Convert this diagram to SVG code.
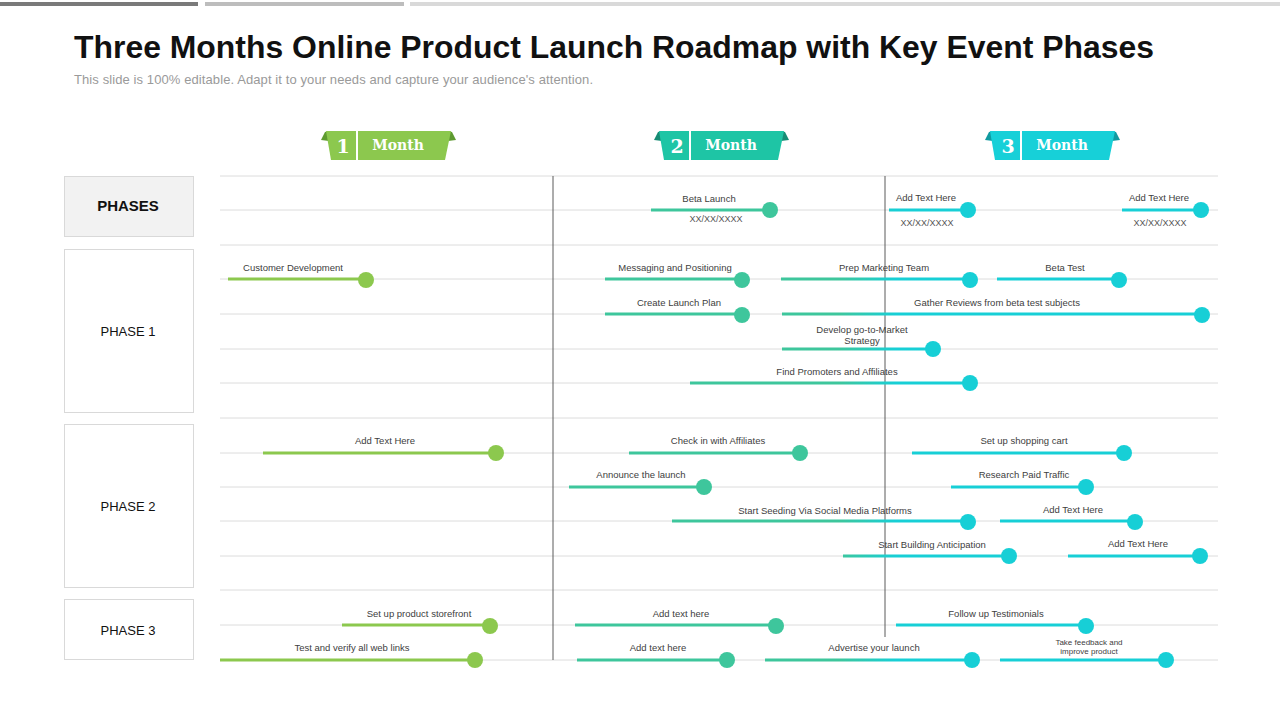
<svg xmlns="http://www.w3.org/2000/svg" width="1280" height="720" viewBox="0 0 1280 720">
<defs>
<linearGradient id="tl" gradientUnits="userSpaceOnUse" x1="0" y1="0" x2="1280" y2="0">
<stop offset="0" stop-color="#8cc84e"/>
<stop offset="0.43" stop-color="#8cc84e"/>
<stop offset="0.433" stop-color="#3ec69c"/>
<stop offset="0.655" stop-color="#3ec69c"/>
<stop offset="0.70" stop-color="#17cfd6"/>
<stop offset="1" stop-color="#17cfd6"/>
</linearGradient>
<linearGradient id="shL" x1="1" y1="0" x2="0" y2="0"><stop offset="0" stop-color="#555"/><stop offset="1" stop-color="#555" stop-opacity="0"/></linearGradient>
<linearGradient id="shR" x1="0" y1="0" x2="1" y2="0"><stop offset="0" stop-color="#555"/><stop offset="1" stop-color="#555" stop-opacity="0"/></linearGradient>
</defs>
<style>
.grid{stroke:#dcdcdc;stroke-width:1}
.vl{stroke:#5a5a5a;stroke-width:1}
.bar{stroke:url(#tl);stroke-width:3;fill:none}
.dot{fill:url(#tl)}
.lb{font-family:"Liberation Sans",Arial,sans-serif;font-size:9.5px;fill:#404040;text-anchor:middle}
.sm{font-family:"Liberation Sans",Arial,sans-serif;font-size:8px;fill:#404040;text-anchor:middle}
.dt{font-family:"Liberation Sans",Arial,sans-serif;font-size:9px;fill:#555;text-anchor:middle}
.ph{font-family:"Liberation Sans",Arial,sans-serif;font-size:13px;fill:#111;text-anchor:middle}
.box{fill:#fff;stroke:#d9d9d9;stroke-width:1}
.mn{font-family:"DejaVu Serif","Liberation Serif",serif;font-weight:bold;fill:#fff;text-anchor:middle}
</style>
<rect width="1280" height="720" fill="#fff"/>
<g id="topbars">
<rect x="0" y="2" width="198" height="4" fill="#7a7a7a"/>
<rect x="205" y="2" width="199" height="4" fill="#bdbdbd"/>
<rect x="410" y="2" width="870" height="4" fill="#d9d9d9"/>
</g>
<g id="title">
<text x="74" y="58" font-family="'Liberation Sans', Arial, sans-serif" font-size="32" font-weight="bold" fill="#111" textLength="1080" lengthAdjust="spacingAndGlyphs">Three Months Online Product Launch Roadmap with Key Event Phases</text>
<text x="74" y="84" font-family="'Liberation Sans', Arial, sans-serif" font-size="13" fill="#9a9a9a" textLength="519" lengthAdjust="spacing">This slide is 100% editable. Adapt it to your needs and capture your audience's attention.</text>
</g>
<g id="grid">
<line class="grid" x1="220" y1="176" x2="1218" y2="176" stroke-width="2"/>
<line class="grid" x1="220" y1="210" x2="1218" y2="210"/>
<line class="grid" x1="220" y1="245" x2="1218" y2="245"/>
<line class="grid" x1="220" y1="279" x2="1218" y2="279"/>
<line class="grid" x1="220" y1="314" x2="1218" y2="314"/>
<line class="grid" x1="220" y1="349" x2="1218" y2="349"/>
<line class="grid" x1="220" y1="383" x2="1218" y2="383"/>
<line class="grid" x1="220" y1="418" x2="1218" y2="418"/>
<line class="grid" x1="220" y1="453" x2="1218" y2="453"/>
<line class="grid" x1="220" y1="487" x2="1218" y2="487"/>
<line class="grid" x1="220" y1="521" x2="1218" y2="521"/>
<line class="grid" x1="220" y1="556" x2="1218" y2="556"/>
<line class="grid" x1="220" y1="590" x2="1218" y2="590" stroke-width="2"/>
<line class="grid" x1="220" y1="625" x2="1218" y2="625"/>
<line class="grid" x1="220" y1="660" x2="1218" y2="660"/>
<line class="vl" x1="553" y1="176" x2="553" y2="660"/>
<line class="vl" x1="885" y1="176" x2="885" y2="637"/>
</g>
<g id="month1">
<line x1="312" y1="140" x2="324" y2="140" stroke="url(#shL)" stroke-width="1.2"/>
<line x1="455" y1="140" x2="468" y2="140" stroke="url(#shR)" stroke-width="1.2"/>
<polygon points="321,140 325,132 329,131 329,141" fill="#5e9a30"/>
<polygon points="448,131 452,132 456,140 448,141" fill="#5e9a30"/>
<polygon points="326,131 451,131 445,160 331,160" fill="#8cc84e"/>
<line x1="357" y1="131" x2="357" y2="160" stroke="#fff" stroke-width="2"/>
<text class="mn" x="343" y="153" font-size="19">1</text>
<text class="mn" x="398" y="150" font-size="14">Month</text>
</g>
<g id="month2" transform="translate(333,0)">
<line x1="312" y1="140" x2="324" y2="140" stroke="url(#shL)" stroke-width="1.2"/>
<line x1="455" y1="140" x2="468" y2="140" stroke="url(#shR)" stroke-width="1.2"/>
<polygon points="321,140 325,132 329,131 329,141" fill="#168c74"/>
<polygon points="448,131 452,132 456,140 448,141" fill="#168c74"/>
<polygon points="326,131 451,131 445,160 331,160" fill="#1ec5a5"/>
<line x1="357" y1="131" x2="357" y2="160" stroke="#fff" stroke-width="2"/>
<text class="mn" x="344" y="153" font-size="19">2</text>
<text class="mn" x="398" y="150" font-size="14">Month</text>
</g>
<g id="month3" transform="translate(664,0)">
<line x1="312" y1="140" x2="324" y2="140" stroke="url(#shL)" stroke-width="1.2"/>
<line x1="455" y1="140" x2="468" y2="140" stroke="url(#shR)" stroke-width="1.2"/>
<polygon points="321,140 325,132 329,131 329,141" fill="#109aa0"/>
<polygon points="448,131 452,132 456,140 448,141" fill="#109aa0"/>
<polygon points="326,131 451,131 445,160 331,160" fill="#17d0d8"/>
<line x1="357" y1="131" x2="357" y2="160" stroke="#fff" stroke-width="2"/>
<text class="mn" x="344" y="153" font-size="19">3</text>
<text class="mn" x="398" y="150" font-size="14">Month</text>
</g>
<g id="phases">
<rect x="64.5" y="176.5" width="129" height="60" fill="#f2f2f2" stroke="#d9d9d9"/>
<text x="128" y="211" font-family="'Liberation Sans', Arial, sans-serif" font-size="15" font-weight="bold" fill="#111" text-anchor="middle">PHASES</text>
</g>
<g id="phase1"><rect class="box" x="64.5" y="249.5" width="129" height="163"/><text class="ph" x="128" y="336">PHASE  1</text></g>
<g id="phase2"><rect class="box" x="64.5" y="424.5" width="129" height="163"/><text class="ph" x="128" y="511">PHASE  2</text></g>
<g id="phase3"><rect class="box" x="64.5" y="599.5" width="129" height="60"/><text class="ph" x="128" y="635">PHASE  3</text></g>
<g id="connectors">
<line class="bar" x1="651" y1="210" x2="770" y2="210"/>
<line class="bar" x1="889" y1="210" x2="968" y2="210"/>
<line class="bar" x1="1122" y1="210" x2="1201" y2="210"/>
<line class="bar" x1="228" y1="279" x2="366" y2="279"/>
<line class="bar" x1="605" y1="279" x2="742" y2="279"/>
<line class="bar" x1="781" y1="279" x2="970" y2="279"/>
<line class="bar" x1="997" y1="279" x2="1119" y2="279"/>
<line class="bar" x1="605" y1="314" x2="742" y2="314"/>
<line class="bar" x1="782" y1="314" x2="1202" y2="314"/>
<line class="bar" x1="782" y1="349" x2="933" y2="349"/>
<line class="bar" x1="690" y1="383" x2="970" y2="383"/>
<line class="bar" x1="263" y1="453" x2="496" y2="453"/>
<line class="bar" x1="629" y1="453" x2="800" y2="453"/>
<line class="bar" x1="912" y1="453" x2="1124" y2="453"/>
<line class="bar" x1="569" y1="487" x2="704" y2="487"/>
<line class="bar" x1="951" y1="487" x2="1086" y2="487"/>
<line class="bar" x1="672" y1="521" x2="968" y2="521"/>
<line class="bar" x1="1000" y1="521" x2="1135" y2="521"/>
<line class="bar" x1="843" y1="556" x2="1009" y2="556"/>
<line class="bar" x1="1068" y1="556" x2="1200" y2="556"/>
<line class="bar" x1="342" y1="625" x2="490" y2="625"/>
<line class="bar" x1="575" y1="625" x2="776" y2="625"/>
<line class="bar" x1="896" y1="625" x2="1086" y2="625"/>
<line class="bar" x1="220" y1="660" x2="475" y2="660"/>
<line class="bar" x1="577" y1="660" x2="727" y2="660"/>
<line class="bar" x1="765" y1="660" x2="972" y2="660"/>
<line class="bar" x1="1000" y1="660" x2="1166" y2="660"/>
</g>
<g id="ev-beta-launch"><circle class="dot" cx="770" cy="210" r="8"/><text class="lb" x="709" y="202">Beta Launch</text><text class="dt" x="716" y="222">XX/XX/XXXX</text></g>
<g id="ev-m3-a"><circle class="dot" cx="968" cy="210" r="8"/><text class="lb" x="926" y="201">Add Text Here</text><text class="dt" x="927" y="226">XX/XX/XXXX</text></g>
<g id="ev-m3-b"><circle class="dot" cx="1201" cy="210" r="8"/><text class="lb" x="1159" y="201">Add Text Here</text><text class="dt" x="1160" y="226">XX/XX/XXXX</text></g>
<g id="ev-customer-dev"><circle class="dot" cx="366" cy="280" r="8"/><text class="lb" x="293" y="271">Customer Development</text></g>
<g id="ev-messaging"><circle class="dot" cx="742" cy="280" r="8"/><text class="lb" x="675" y="271">Messaging and Positioning</text></g>
<g id="ev-prep-marketing"><circle class="dot" cx="970" cy="280" r="8"/><text class="lb" x="884" y="271">Prep Marketing Team</text></g>
<g id="ev-beta-test"><circle class="dot" cx="1119" cy="280" r="8"/><text class="lb" x="1065" y="271">Beta Test</text></g>
<g id="ev-launch-plan"><circle class="dot" cx="742" cy="315" r="8"/><text class="lb" x="679" y="306">Create Launch Plan</text></g>
<g id="ev-gather-reviews"><circle class="dot" cx="1202" cy="315" r="8"/><text class="lb" x="997" y="306">Gather Reviews from beta test subjects</text></g>
<g id="ev-go-to-market"><circle class="dot" cx="933" cy="349" r="8"/><text class="lb" x="862" y="333">Develop go-to-Market</text><text class="lb" x="862" y="344">Strategy</text></g>
<g id="ev-promoters"><circle class="dot" cx="970" cy="383" r="8"/><text class="lb" x="837" y="375">Find Promoters and Affiliates</text></g>
<g id="ev-p2-a"><circle class="dot" cx="496" cy="453" r="8"/><text class="lb" x="385" y="444">Add Text Here</text></g>
<g id="ev-check-affiliates"><circle class="dot" cx="800" cy="453" r="8"/><text class="lb" x="718" y="444">Check in with Affiliates</text></g>
<g id="ev-shopping-cart"><circle class="dot" cx="1124" cy="453" r="8"/><text class="lb" x="1024" y="444">Set up shopping cart</text></g>
<g id="ev-announce"><circle class="dot" cx="704" cy="487" r="8"/><text class="lb" x="641" y="478">Announce the launch</text></g>
<g id="ev-paid-traffic"><circle class="dot" cx="1086" cy="487" r="8"/><text class="lb" x="1024" y="478">Research Paid Traffic</text></g>
<g id="ev-seeding"><circle class="dot" cx="968" cy="522" r="8"/><text class="lb" x="825" y="514">Start Seeding Via Social Media Platforms</text></g>
<g id="ev-p2-b"><circle class="dot" cx="1135" cy="522" r="8"/><text class="lb" x="1073" y="513">Add Text Here</text></g>
<g id="ev-anticipation"><circle class="dot" cx="1009" cy="556" r="8"/><text class="lb" x="932" y="548">Start Building Anticipation</text></g>
<g id="ev-p2-c"><circle class="dot" cx="1200" cy="556" r="8"/><text class="lb" x="1138" y="547">Add Text Here</text></g>
<g id="ev-storefront"><circle class="dot" cx="490" cy="626" r="8"/><text class="lb" x="419" y="617">Set up product storefront</text></g>
<g id="ev-p3-a"><circle class="dot" cx="776" cy="626" r="8"/><text class="lb" x="681" y="617">Add text here</text></g>
<g id="ev-testimonials"><circle class="dot" cx="1086" cy="626" r="8"/><text class="lb" x="996" y="617">Follow up Testimonials</text></g>
<g id="ev-web-links"><circle class="dot" cx="475" cy="660" r="8"/><text class="lb" x="352" y="651">Test and verify all web links</text></g>
<g id="ev-p3-b"><circle class="dot" cx="727" cy="660" r="8"/><text class="lb" x="658" y="651">Add text here</text></g>
<g id="ev-advertise"><circle class="dot" cx="972" cy="660" r="8"/><text class="lb" x="874" y="651">Advertise your launch</text></g>
<g id="ev-feedback"><circle class="dot" cx="1166" cy="660" r="8"/><text class="sm" x="1089" y="645">Take feedback  and</text><text class="sm" x="1089" y="654">improve product</text></g>
</svg>
